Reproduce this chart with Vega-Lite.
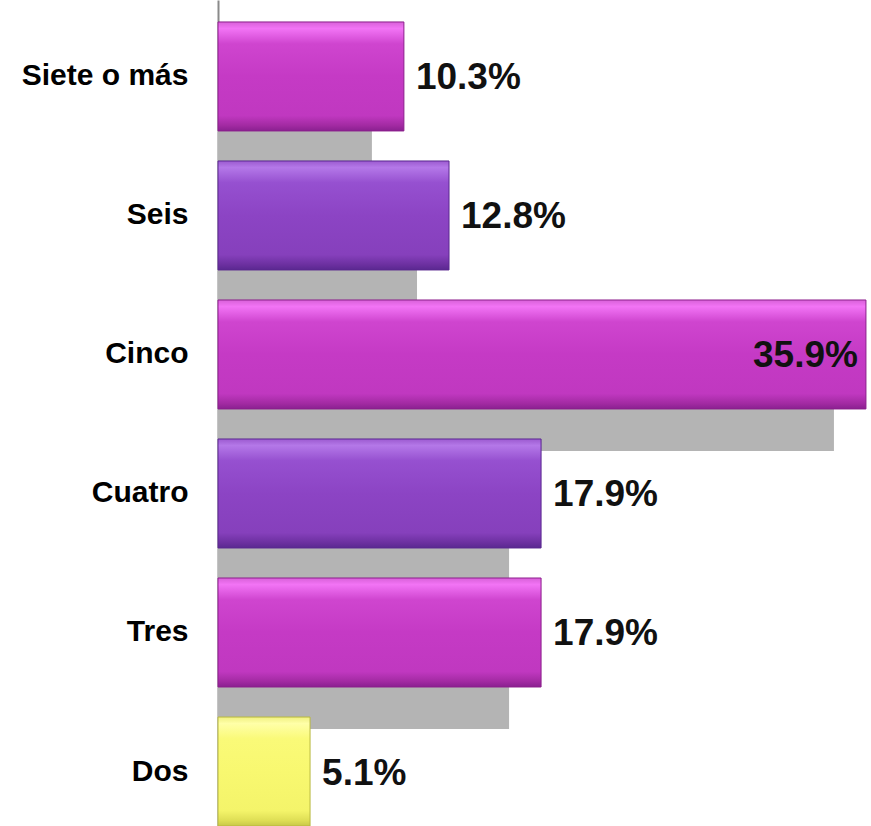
{
  "$schema": "https://vega.github.io/schema/vega-lite/v6.json",
  "width": 653,
  "height": 826,
  "autosize": "none",
  "padding": {"left": 218, "top": 0, "right": 0, "bottom": 0},
  "background": "white",
  "config": {"view": {"stroke": null}},
  "data": {
    "values": [
      {"cat": "Siete o más", "value": 10.3, "label": "10.3%", "tone": "magenta"},
      {"cat": "Seis", "value": 12.8, "label": "12.8%", "tone": "purple"},
      {"cat": "Cinco", "value": 35.9, "label": "35.9%", "tone": "magenta"},
      {"cat": "Cuatro", "value": 17.9, "label": "17.9%", "tone": "purple"},
      {"cat": "Tres", "value": 17.9, "label": "17.9%", "tone": "magenta"},
      {"cat": "Dos", "value": 5.1, "label": "5.1%", "tone": "yellow"}
    ]
  },
  "encoding": {
    "y": {
      "field": "cat",
      "type": "nominal",
      "sort": ["Siete o más", "Seis", "Cinco", "Cuatro", "Tres", "Dos"],
      "scale": {"paddingInner": 0.216, "paddingOuter": 0.079, "align": 1},
      "axis": {
        "title": null,
        "ticks": false,
        "grid": false,
        "domainColor": "#8a8a8a",
        "domainWidth": 2,
        "labelFont": "Liberation Sans",
        "labelFontWeight": "bold",
        "labelFontSize": 30,
        "labelColor": "#000000",
        "labelPadding": 30
      }
    }
  },
  "layer": [
    {
      "mark": {"type": "bar", "color": "#b4b4b4", "yOffset": 42, "xOffset": -32},
      "encoding": {
        "x": {"field": "value", "type": "quantitative", "scale": {"domain": [0, 36.18]}, "axis": null},
        "x2": {"datum": 0}
      }
    },
    {
      "transform": [{"filter": "datum.tone === 'magenta'"}],
      "mark": {
        "type": "bar",
        "stroke": "#8c1f8c",
        "strokeWidth": 1,
        "color": {
          "gradient": "linear", "x1": 0, "y1": 0, "x2": 0, "y2": 1,
          "stops": [
            {"offset": 0, "color": "#d860d8"},
            {"offset": 0.06, "color": "#f274f5"},
            {"offset": 0.2, "color": "#cf45cf"},
            {"offset": 0.5, "color": "#c53ac5"},
            {"offset": 0.86, "color": "#c038c0"},
            {"offset": 0.95, "color": "#a22aa2"},
            {"offset": 1, "color": "#8a2090"}
          ]
        }
      },
      "encoding": {
        "x": {"field": "value", "type": "quantitative", "scale": {"domain": [0, 36.18]}, "axis": null}
      }
    },
    {
      "transform": [{"filter": "datum.tone === 'purple'"}],
      "mark": {
        "type": "bar",
        "stroke": "#5a2890",
        "strokeWidth": 1,
        "color": {
          "gradient": "linear", "x1": 0, "y1": 0, "x2": 0, "y2": 1,
          "stops": [
            {"offset": 0, "color": "#9c5ad0"},
            {"offset": 0.06, "color": "#b478e8"},
            {"offset": 0.2, "color": "#9650d0"},
            {"offset": 0.5, "color": "#8c44c4"},
            {"offset": 0.86, "color": "#8640bc"},
            {"offset": 0.95, "color": "#6c30a0"},
            {"offset": 1, "color": "#5a2890"}
          ]
        }
      },
      "encoding": {
        "x": {"field": "value", "type": "quantitative", "scale": {"domain": [0, 36.18]}, "axis": null}
      }
    },
    {
      "transform": [{"filter": "datum.tone === 'yellow'"}],
      "mark": {
        "type": "bar",
        "stroke": "#b8b840",
        "strokeWidth": 1,
        "color": {
          "gradient": "linear", "x1": 0, "y1": 0, "x2": 0, "y2": 1,
          "stops": [
            {"offset": 0, "color": "#f0f080"},
            {"offset": 0.06, "color": "#ffffa8"},
            {"offset": 0.2, "color": "#fafa78"},
            {"offset": 0.5, "color": "#f8f870"},
            {"offset": 0.86, "color": "#f4f46a"},
            {"offset": 0.95, "color": "#dede55"},
            {"offset": 1, "color": "#c8c848"}
          ]
        }
      },
      "encoding": {
        "x": {"field": "value", "type": "quantitative", "scale": {"domain": [0, 36.18]}, "axis": null}
      }
    },
    {
      "transform": [{"filter": "datum.value < 30"}],
      "mark": {"type": "text", "align": "left", "baseline": "middle", "dx": 12, "dy": 2, "font": "Liberation Sans", "fontWeight": "bold", "fontSize": 37, "color": "#111111"},
      "encoding": {
        "x": {"field": "value", "type": "quantitative", "scale": {"domain": [0, 36.18]}, "axis": null},
        "text": {"field": "label"}
      }
    },
    {
      "transform": [{"filter": "datum.value >= 30"}],
      "mark": {"type": "text", "align": "right", "baseline": "middle", "dx": -8, "dy": 2, "font": "Liberation Sans", "fontWeight": "bold", "fontSize": 37, "color": "#111111"},
      "encoding": {
        "x": {"field": "value", "type": "quantitative", "scale": {"domain": [0, 36.18]}, "axis": null},
        "text": {"field": "label"}
      }
    }
  ]
}
